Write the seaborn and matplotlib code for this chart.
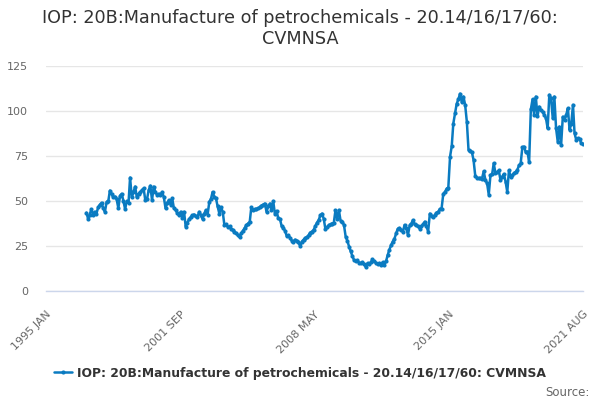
import numpy as np
import pandas as pd
import matplotlib
matplotlib.use("Agg")
import matplotlib.pyplot as plt
import matplotlib.dates as mdates
from matplotlib.lines import Line2D
import seaborn as sns

title = "IOP: 20B:Manufacture of petrochemicals - 20.14/16/17/60:\nCVMNSA"
series_name = "IOP: 20B:Manufacture of petrochemicals - 20.14/16/17/60: CVMNSA"
start_month = "1997-01-01"
axis_start = "1995-01-01"
axis_end = "2021-08-01"
tick_labels = ["1995 JAN", "2001 SEP", "2008 MAY", "2015 JAN", "2021 AUG"]
y_ticks = [0, 25, 50, 75, 100, 125]

v1997 = [43.5, 40.0, 42.5, 45.5, 42.5, 44.0, 43.0, 46.5, 48.0, 49.0, 46.0, 44.0]
v1998 = [49.5, 50.0, 55.8, 54.0, 52.0, 52.5, 51.0, 46.0, 53.0, 54.0, 50.0, 45.5]
v1999 = [50.0, 49.0, 63.0, 52.0, 55.0, 58.0, 52.0, 54.0, 55.0, 56.0, 57.0, 50.5]
v2000 = [51.0, 56.0, 58.5, 50.5, 58.0, 55.0, 53.5, 54.0, 53.5, 55.0, 52.0, 46.0]
v2001 = [49.0, 50.5, 48.0, 51.5, 46.0, 45.0, 43.5, 42.0, 44.0, 40.5, 44.0, 35.7]
v2002 = [38.0, 40.0, 41.0, 42.0, 42.5, 41.5, 41.0, 44.0, 42.0, 40.0, 43.0, 45.0]
v2003 = [42.5, 49.6, 51.0, 55.0, 52.5, 51.5, 47.0, 43.0, 46.5, 44.0, 36.5, 37.0]
v2004 = [35.5, 36.0, 34.5, 34.0, 33.0, 32.0, 31.0, 29.9, 32.0, 33.5, 35.0, 36.5]
v2005 = [37.5, 38.5, 46.5, 45.0, 45.5, 45.5, 46.0, 46.5, 47.5, 48.0, 48.6, 44.0]
v2006 = [47.0, 48.6, 45.0, 50.0, 43.0, 44.5, 40.5, 40.0, 36.0, 35.0, 33.5, 30.5]
v2007 = [31.0, 29.5, 28.0, 27.5, 28.5, 28.0, 27.0, 25.0, 27.5, 28.5, 29.5, 30.0]
v2008 = [31.0, 32.5, 33.0, 34.0, 36.0, 38.0, 39.5, 42.0, 43.0, 40.0, 34.2, 35.5]
v2009 = [36.7, 37.0, 37.5, 38.0, 44.9, 40.0, 45.0, 39.0, 38.5, 36.7, 30.2, 28.0]
v2010 = [24.7, 22.0, 19.5, 17.2, 16.5, 17.0, 15.8, 15.5, 16.0, 15.0, 13.2, 15.5]
v2011 = [14.8, 16.0, 17.6, 16.5, 15.8, 15.0, 15.5, 14.5, 16.0, 14.6, 16.5, 20.0]
v2012 = [23.0, 25.5, 27.5, 29.0, 32.0, 34.6, 35.0, 34.0, 33.0, 36.7, 35.0, 31.0]
v2013 = [36.5, 37.5, 39.4, 37.0, 36.5, 36.0, 34.6, 36.0, 37.0, 38.5, 36.0, 33.0]
v2014 = [43.0, 41.5, 41.0, 42.0, 43.5, 44.0, 45.6, 45.8, 54.0, 55.0, 56.9, 57.5]
v2015 = [74.6, 80.5, 93.0, 98.7, 104.0, 106.5, 109.6, 105.0, 108.0, 103.4, 94.0, 78.4]
v2016 = [78.0, 77.0, 72.8, 64.0, 63.0, 62.6, 62.6, 62.5, 66.5, 61.7, 59.8, 53.5]
v2017 = [64.4, 65.0, 71.0, 65.4, 66.0, 67.0, 61.6, 63.5, 65.0, 60.8, 55.0, 67.0]
v2018 = [63.4, 64.5, 65.4, 66.2, 67.2, 69.8, 70.9, 79.9, 80.2, 77.0, 77.4, 71.5]
v2019 = [100.9, 106.5, 97.8, 108.0, 97.0, 102.4, 100.6, 99.6, 98.0, 96.0, 90.4, 109.0]
v2020 = [107.0, 96.0, 108.0, 90.4, 83.0, 91.3, 81.0, 96.8, 95.0, 97.8, 101.5, 89.5]
v2021 = [93.0, 103.4, 87.6, 83.9, 84.8, 84.4, 82.0, 81.6]

values = (v1997 + v1998 + v1999 + v2000 + v2001 + v2002 + v2003 + v2004 + v2005
          + v2006 + v2007 + v2008 + v2009 + v2010 + v2011 + v2012 + v2013 + v2014
          + v2015 + v2016 + v2017 + v2018 + v2019 + v2020 + v2021)
dates = pd.date_range(start_month, periods=len(values), freq="MS")
df = pd.DataFrame({"date": dates, "value": values, "series": series_name})

sns.set_theme(style="white")
plt.rcParams["font.family"] = ["DejaVu Sans"]

color = "#0a7bc1"
fig = plt.figure(figsize=(6, 4), dpi=100)
ax = fig.add_axes([46 / 600, 1 - 291 / 400, 537 / 600, 225 / 400])

sns.lineplot(data=df, x="date", y="value", hue="series", palette=[color], ax=ax,
             linewidth=1.8, marker="o", markersize=3.0, markeredgewidth=0, legend=False)

x0 = mdates.date2num(pd.Timestamp(axis_start))
x1 = mdates.date2num(pd.Timestamp(axis_end))
ax.set_xlim(x0, x1)
ax.set_ylim(0, 125)
ax.set_yticks(y_ticks)
ax.set_yticklabels([str(t) for t in y_ticks], fontsize=8, color="#666666")
ax.grid(axis="y", color="#e6e6e6", linewidth=1)
ax.set_axisbelow(True)
ax.set_xlabel("")
ax.set_ylabel("")

ticks = np.linspace(x0, x1, 17)
ax.set_xticks(ticks)
labels = []
k = 0
for i in range(17):
    if i % 4 == 0:
        labels.append(tick_labels[k])
        k += 1
    else:
        labels.append("")
ax.set_xticklabels(labels, rotation=45, ha="right", va="top", rotation_mode="anchor",
                   fontsize=8, color="#666666")
ax.tick_params(axis="x", length=10, width=1, color="#ccd6eb", pad=3, direction="out")
ax.tick_params(axis="y", length=0, pad=13)

for s in ["left", "right", "top"]:
    ax.spines[s].set_visible(False)
ax.spines["bottom"].set_color("#ccd6eb")
ax.spines["bottom"].set_linewidth(1)

fig.text(0.5, 1 - 9 / 400, title, ha="center", va="top", fontsize=12.7, color="#333333",
         linespacing=1.2)

handle = Line2D([0], [0], color=color, linewidth=1.8, marker="o", markersize=3.0,
                markeredgewidth=0)
leg = fig.legend([handle], [series_name], loc="center", bbox_to_anchor=(0.5, 1 - 373 / 400),
                 frameon=False, handlelength=1.4, handletextpad=0.4,
                 prop={"weight": "bold", "size": 8.9})
for t in leg.get_texts():
    t.set_color("#333333")

fig.text(1 - 10 / 600, 1 - 392 / 400, "Source:", ha="right", va="center", fontsize=8.5,
         color="#666666")

fig.savefig("out.png", dpi=100)
